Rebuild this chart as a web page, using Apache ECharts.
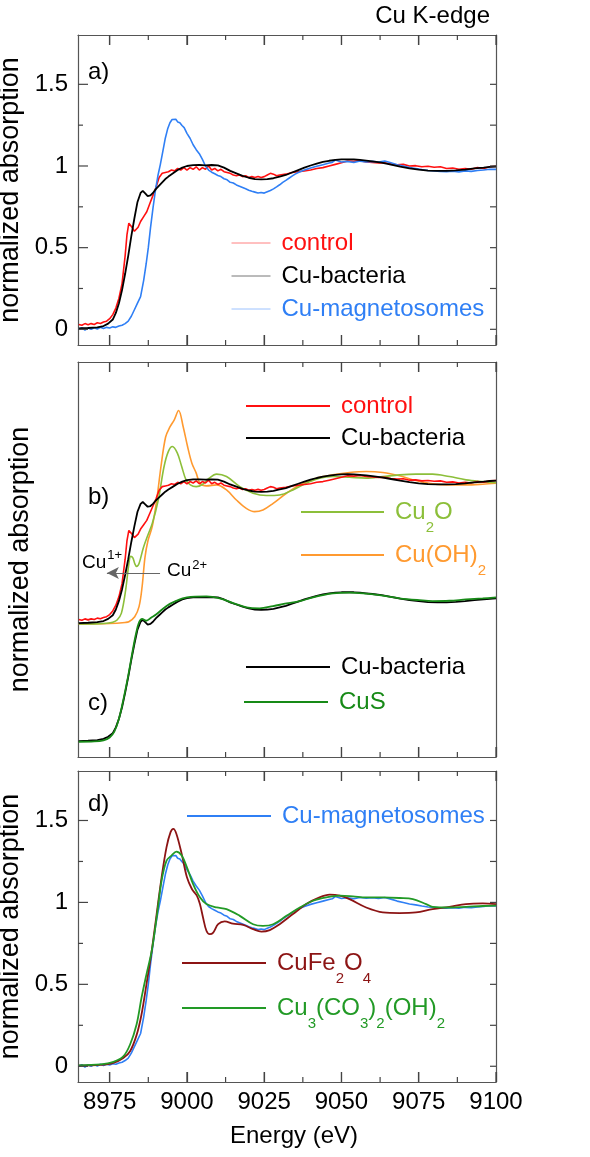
<!DOCTYPE html>
<html><head><meta charset="utf-8">
<script src="https://cdn.jsdelivr.net/npm/echarts@6/dist/echarts.min.js"></script>
<style>html,body{margin:0;padding:0;background:#fff}#c{width:590px;height:1157px}</style>
</head><body><div id="c"></div>
<script>
// ---------------- data (energy eV, normalized absorption) ----------------
const CONTROL = [[8965,0.03],[8966,0.025],[8967,0.035],[8968,0.028],[8969,0.035],[8970,0.03],[8971,0.04],[8972,0.036],[8973,0.045],[8974,0.05],[8975,0.065],[8976,0.09],[8977,0.13],[8978,0.19],[8979,0.28],[8980,0.45],[8980.6,0.58],[8981.2,0.65],[8981.8,0.65],[8982.4,0.62],[8983,0.6],[8983.6,0.605],[8984.2,0.625],[8985,0.66],[8986,0.69],[8987,0.72],[8988,0.77],[8989,0.82],[8990,0.87],[8991,0.93],[8992,0.955],[8993,0.96],[8994,0.965],[8995,0.975],[8996,0.97],[8997,0.985],[8998,0.975],[8999,0.99],[9000,0.975],[9001,0.99],[9002,0.98],[9003,0.995],[9004,0.975],[9005,0.99],[9006,0.98],[9007,1.0],[9008,0.975],[9009,0.985],[9010,0.97],[9011,0.98],[9012,0.965],[9013,0.96],[9014,0.955],[9015,0.945],[9016,0.94],[9017,0.945],[9018,0.935],[9019,0.94],[9020,0.93],[9021,0.935],[9022,0.93],[9023,0.936],[9024,0.93],[9025,0.935],[9026,0.945],[9027,0.955],[9028,0.95],[9029,0.94],[9030,0.945],[9032,0.95],[9034,0.96],[9036,0.965],[9038,0.97],[9040,0.975],[9042,0.985],[9044,0.99],[9046,1.0],[9048,1.01],[9050,1.02],[9052,1.03],[9054,1.028],[9056,1.033],[9058,1.025],[9060,1.022],[9062,1.018],[9064,1.02],[9066,1.012],[9068,1.008],[9070,1.01],[9072,1.0],[9074,1.002],[9076,0.995],[9078,0.998],[9080,0.992],[9082,0.995],[9084,0.985],[9086,0.988],[9088,0.98],[9090,0.985],[9092,0.98],[9094,0.99],[9096,0.985],[9098,0.995],[9100,0.998]];

const CU_BACTERIA = [[8965,0.005],[8968,0.008],[8971,0.012],[8973,0.02],[8974.5,0.035],[8976,0.06],[8977,0.1],[8978,0.16],[8979,0.24],[8980,0.34],[8981,0.45],[8982,0.57],[8983,0.68],[8984,0.78],[8985,0.835],[8985.7,0.848],[8986.5,0.832],[8987.3,0.815],[8988.2,0.82],[8989,0.835],[8990,0.86],[8991,0.88],[8992,0.9],[8993,0.92],[8994,0.935],[8995.5,0.955],[8997,0.975],[8998.5,0.99],[9000,1.0],[9002,1.005],[9004,1.006],[9006,1.004],[9008,1.006],[9010,1.004],[9012,0.99],[9014,0.97],[9016,0.955],[9018,0.94],[9020,0.928],[9022,0.92],[9024,0.918],[9026,0.92],[9028,0.925],[9030,0.935],[9032,0.945],[9034,0.96],[9036,0.975],[9038,0.99],[9040,1.003],[9042,1.015],[9044,1.025],[9046,1.032],[9048,1.037],[9050,1.04],[9052,1.041],[9054,1.04],[9056,1.037],[9058,1.033],[9060,1.028],[9063,1.02],[9066,1.008],[9069,0.996],[9072,0.986],[9075,0.978],[9078,0.972],[9081,0.97],[9084,0.97],[9087,0.973],[9090,0.978],[9093,0.985],[9096,0.99],[9098,0.994],[9100,0.997]];

const CU_MAGNETOSOMES = [[8965,0.0],[8966,0.01],[8967,-0.005],[8968,0.008],[8969,0.0],[8970,0.01],[8971,0.002],[8972,0.012],[8973,0.005],[8974,0.012],[8975,0.008],[8976,0.015],[8977,0.012],[8978,0.02],[8979,0.025],[8980,0.035],[8981,0.05],[8982,0.08],[8983,0.12],[8984,0.16],[8985,0.2],[8986,0.3],[8986.8,0.4],[8987.5,0.5],[8988.2,0.62],[8989,0.74],[8989.8,0.85],[8990.6,0.94],[8991.4,1.01],[8992.2,1.09],[8993,1.17],[8993.8,1.23],[8994.5,1.265],[8995.2,1.285],[8995.8,1.278],[8996.4,1.286],[8997,1.27],[8997.7,1.265],[8998.4,1.248],[8999.1,1.235],[9000,1.2],[9001,1.17],[9002,1.13],[9003,1.1],[9004,1.075],[9005,1.04],[9006,1.0],[9007,0.975],[9008,0.962],[9009,0.952],[9010,0.942],[9011,0.935],[9012,0.922],[9013,0.915],[9014,0.9],[9015,0.896],[9016,0.884],[9017,0.876],[9018,0.868],[9019,0.86],[9020,0.852],[9021,0.845],[9022,0.84],[9023,0.835],[9024,0.838],[9025,0.834],[9026,0.842],[9027,0.85],[9028,0.86],[9029,0.872],[9030,0.885],[9031,0.9],[9032,0.912],[9033,0.925],[9034,0.938],[9035,0.95],[9036,0.96],[9038,0.975],[9040,0.988],[9042,0.998],[9044,1.008],[9046,1.018],[9047,1.022],[9048,1.036],[9049,1.03],[9050,1.024],[9052,1.028],[9054,1.022],[9056,1.03],[9058,1.025],[9060,1.028],[9062,1.024],[9064,1.03],[9066,1.02],[9068,1.008],[9070,1.0],[9072,0.99],[9074,0.985],[9076,0.978],[9078,0.972],[9080,0.97],[9082,0.966],[9084,0.965],[9086,0.968],[9088,0.964],[9090,0.97],[9092,0.967],[9094,0.972],[9096,0.975],[9098,0.98],[9100,0.979]];

const CU2O = [[8965,0],[8970,0],[8974,0.005],[8976,0.012],[8977.4,0.027],[8978.8,0.075],[8980.2,0.24],[8981.1,0.4],[8981.8,0.47],[8982.5,0.46],[8983.1,0.42],[8983.7,0.4],[8984.5,0.42],[8985.9,0.53],[8987.4,0.62],[8988.8,0.7],[8990.7,0.86],[8992.6,1.095],[8994,1.2],[8995.3,1.234],[8996.9,1.188],[8998.3,1.095],[8999.7,1.002],[9001.1,0.967],[9003,0.955],[9005,0.97],[9007,1.01],[9009.6,1.042],[9012.8,1.025],[9017.1,0.955],[9021.4,0.909],[9025.7,0.893],[9030,0.897],[9034.3,0.932],[9038.6,0.979],[9042.9,1.014],[9047.2,1.025],[9052.6,1.02],[9058,1.014],[9063.4,1.025],[9068.8,1.037],[9074.1,1.042],[9079.5,1.042],[9084.9,1.025],[9090.3,1.002],[9095.7,0.99],[9100,0.983]];

const CU_OH2 = [[8965,0],[8975,0.003],[8980,0.01],[8981.2,0.015],[8983.1,0.05],[8984.5,0.12],[8985.5,0.26],[8986.4,0.46],[8987.4,0.58],[8988.8,0.68],[8990.2,0.86],[8991.6,1.095],[8993.1,1.3],[8994.5,1.37],[8995.9,1.42],[8997.3,1.485],[8998.8,1.37],[9000.2,1.234],[9001.6,1.118],[9003,1.049],[9004.2,0.979],[9006.3,0.96],[9009.6,0.967],[9012.8,0.932],[9016,0.862],[9019.2,0.804],[9021.9,0.781],[9024.6,0.793],[9027.9,0.839],[9032.2,0.909],[9036.5,0.967],[9041.8,1.014],[9047.2,1.037],[9052.6,1.053],[9058,1.06],[9063.4,1.053],[9068.8,1.03],[9074.1,0.997],[9079.5,0.974],[9084.9,0.967],[9090.3,0.967],[9095.7,0.972],[9100,0.979]];

const CUS = [[8965,0],[8970,0.002],[8973,0.01],[8975,0.03],[8976.5,0.07],[8978,0.16],[8979.5,0.3],[8981,0.46],[8982.5,0.64],[8983.5,0.75],[8984.5,0.83],[8985.5,0.855],[8986.8,0.842],[8988.5,0.865],[8990,0.885],[8993.4,0.945],[8996.5,0.98],[9000,1.005],[9006.3,1.012],[9010.6,0.998],[9014.9,0.965],[9019.2,0.935],[9023.5,0.928],[9027.9,0.944],[9032.2,0.962],[9036.5,0.978],[9040.8,1.005],[9047.2,1.032],[9052.6,1.038],[9058,1.03],[9063.4,1.016],[9068.8,0.998],[9075.2,0.985],[9079.5,0.979],[9084.9,0.981],[9090.3,0.99],[9095.7,0.997],[9100,1.004]];

const CUFE2O4 = [[8965,0.004],[8972,0.008],[8976.2,0.02],[8979.4,0.05],[8981.6,0.092],[8983.7,0.19],[8985.3,0.316],[8986.9,0.5],[8988.6,0.704],[8990.2,0.929],[8991.8,1.153],[8993.4,1.337],[8994.7,1.429],[8995.6,1.449],[8996.6,1.418],[8998.3,1.296],[9000,1.153],[9001.6,1.082],[9003.2,1.041],[9004.2,0.99],[9005.2,0.908],[9006.3,0.827],[9007.4,0.806],[9008.5,0.816],[9010.1,0.867],[9012.2,0.884],[9014.9,0.871],[9018.2,0.863],[9021.4,0.837],[9024.1,0.822],[9026.8,0.831],[9030,0.867],[9034.3,0.929],[9038.6,0.99],[9042.9,1.031],[9046.2,1.047],[9049.4,1.041],[9052.6,1.02],[9058,0.969],[9063.4,0.939],[9068.8,0.935],[9074.1,0.939],[9079.5,0.959],[9084.9,0.973],[9090.3,0.99],[9095.7,0.994],[9100,0.99]];

const CU3CO32OH2 = [[8965,0.006],[8972,0.012],[8976.2,0.027],[8979.4,0.06],[8981.6,0.133],[8983.7,0.255],[8985.3,0.418],[8986.9,0.561],[8988.6,0.704],[8990.2,0.908],[8991.8,1.133],[8993.4,1.255],[8995,1.286],[8996.6,1.31],[8998.3,1.286],[9000,1.214],[9002,1.112],[9004.2,1.031],[9006.3,0.99],[9009.6,0.969],[9012.8,0.959],[9017.1,0.918],[9021.4,0.867],[9024.6,0.857],[9027.9,0.867],[9032.2,0.918],[9036.5,0.969],[9040.8,1.01],[9045.1,1.031],[9049.4,1.041],[9053.7,1.037],[9058,1.031],[9063.4,1.031],[9068.8,1.027],[9073.1,1.02],[9077.4,0.99],[9079.5,0.973],[9084.9,0.969],[9090.3,0.973],[9095.7,0.978],[9100,0.98]];

// tick values
const X_MAJOR = [8975, 9000, 9025, 9050, 9075, 9100];
const X_MINOR = [8987.5, 9012.5, 9037.5, 9062.5, 9087.5];
const Y_MAJOR = [0, 0.5, 1, 1.5];
const Y_MINOR = [0.25, 0.75, 1.25];

// vertical offset of the stacked panel b curves (panel c at 0)
const OFFSET_B = 0.82;
const ARROW_Y = 0.354;        // Cu2+ -> Cu1+ arrow height (panel b units)
const ARROW_FROM = 8991.3, ARROW_TO = 8974.1;

// ---------------- style / layout ----------------
const FONT = 'Liberation Sans, Arial, Helvetica, sans-serif';
const FRAME = '#555';
const TICK = '#444';
const C = { control:'#ff1010', bact:'#000000', magn:'#2f7ff5', cu2o:'#8cbf3a', cuoh:'#ff9a30',
            cus:'#178a17', cufe:'#8c1414', cu3:'#229a26' };
const X_MIN = 8964.75, X_MAX = 9100;
const GRID_LEFT = 78, GRID_W = 418;
const grids = [ {top:35, height:310}, {top:362, height:395}, {top:771, height:311} ];
const Y_RANGES = [ [-0.096, 1.802], [-0.106, 2.642], [-0.096, 1.802] ];
const MAJOR_LEN = 10, MINOR_LEN = 5, RIGHT_LEN = 6;

function xAx(gi, pos, labels, extra) {
  return Object.assign({
    type:'value', gridIndex: gi, min: X_MIN, max: X_MAX, position: pos,
    axisLine:{show:true, onZero:false, lineStyle:{color:FRAME, width:1.2}}, splitLine:{show:false},
    axisTick:{show:true, inside:true, length:MAJOR_LEN, customValues: X_MAJOR, lineStyle:{color:TICK, width:1.2}},
    axisLabel:{show: !!labels, customValues: X_MAJOR, margin: 8, fontSize: 24, color:'#000', fontFamily: FONT,
      formatter: v => String(v)}
  }, extra || {});
}
function yAx(gi, pos, labels, extra) {
  const r = Y_RANGES[gi];
  return Object.assign({
    type:'value', gridIndex: gi, min: r[0], max: r[1], position: pos,
    axisLine:{show:true, onZero:false, lineStyle:{color:FRAME, width:1.2}}, splitLine:{show:false},
    axisTick:{show:false},
    axisLabel:{show: !!labels, customValues: Y_MAJOR, margin: 10, fontSize: 24, color:'#000', fontFamily: FONT,
      formatter: v => String(v)}
  }, extra || {});
}
const yName = {name:'normalized absorption', nameLocation:'middle', nameGap: 44,
  nameTextStyle:{fontSize: 27, color:'#000', fontFamily: FONT}};

// x axes: grid g -> index 2g (bottom), 2g+1 (top); y axes: 2g (left), 2g+1 (right)
const xAxis = [], yAxis = [];
for (let g = 0; g < 3; g++) {
  const last = g === 2;
  xAxis.push(xAx(g, 'bottom', last, last ? {name:'Energy (eV)', nameLocation:'middle', nameGap: 42,
    nameTextStyle:{fontSize:24, color:'#000', fontFamily:FONT, padding:[0,0,0,14]}} : {}));
  xAxis.push(xAx(g, 'top', false));
  yAxis.push(yAx(g, 'left', g !== 1, yName));
  yAxis.push(yAx(g, 'right', false));
}

function line(name, data, off, gi, color, extra) {
  return Object.assign({
    type:'line', name, xAxisIndex: gi * 2, yAxisIndex: gi * 2,
    data: data.map(p => [p[0], p[1] + off]),
    symbol:'none', showSymbol:false, animation:false, silent:true,
    lineStyle:{color, width:1.6}, itemStyle:{color}, emphasis:{disabled:true}
  }, extra || {});
}

const SM = {smooth: 0.35};
const series = [
  // panel a
  line('control', CONTROL, 0, 0, C.control),
  line('Cu-magnetosomes', CU_MAGNETOSOMES, 0, 0, C.magn),
  line('Cu-bacteria', CU_BACTERIA, 0, 0, C.bact, {lineStyle:{color:C.bact, width:1.8}}),
  // panel b
  line('Cu(OH)2', CU_OH2, OFFSET_B, 1, C.cuoh, SM),
  line('Cu2O', CU2O, OFFSET_B, 1, C.cu2o, SM),
  line('control', CONTROL, OFFSET_B, 1, C.control),
  line('Cu-bacteria', CU_BACTERIA, OFFSET_B, 1, C.bact, {
    lineStyle:{color:C.bact, width:1.8},
    markLine:{silent:true, animation:false, symbol:['none','arrow'], symbolSize:[9,12],
      label:{show:false}, lineStyle:{color:'#666', width:1, type:'solid'},
      data:[[{coord:[ARROW_FROM, ARROW_Y + OFFSET_B]}, {coord:[ARROW_TO, ARROW_Y + OFFSET_B]}]]}
  }),
  // panel c
  line('Cu-bacteria', CU_BACTERIA, 0, 1, C.bact, {lineStyle:{color:C.bact, width:1.8}}),
  line('CuS', CUS, 0, 1, C.cus, Object.assign({}, SM, {lineStyle:{color:C.cus, width:1.8}})),
  // panel d
  line('Cu-magnetosomes', CU_MAGNETOSOMES, 0, 2, C.magn),
  line('CuFe2O4', CUFE2O4, 0, 2, C.cufe, Object.assign({}, SM, {lineStyle:{color:C.cufe, width:1.8}})),
  line('Cu3(CO3)2(OH)2', CU3CO32OH2, 0, 2, C.cu3, Object.assign({}, SM, {lineStyle:{color:C.cu3, width:1.8}}))
];

// legend entries: name, icon left, icon centre y, icon width, text colour, icon colour, icon line width
const RICH = {'Cu2O':'{m|Cu}{s|2}{m|O}', 'Cu(OH)2':'{m|Cu(OH)}{s|2}', 'CuFe2O4':'{m|CuFe}{s|2}{m|O}{s|4}',
  'Cu3(CO3)2(OH)2':'{m|Cu}{s|3}{m|(CO}{s|3}{m|)}{s|2}{m|(OH)}{s|2}'};
const LEG = [
  ['control', 231, 243, 39, C.control, '#ff8080', 1],
  ['Cu-bacteria', 231, 276, 39, '#000', '#777', 1],
  ['Cu-magnetosomes', 231, 309, 39, C.magn, '#9cc2ff', 1],
  ['control', 245, 406, 84, C.control, C.control, 2],
  ['Cu-bacteria', 245, 438, 84, '#000', '#000', 2],
  ['Cu2O', 300, 512, 83, C.cu2o, C.cu2o, 2],
  ['Cu(OH)2', 300, 555, 83, C.cuoh, C.cuoh, 2],
  ['Cu-bacteria', 245, 667, 84, '#000', '#000', 2],
  ['CuS', 243, 702, 84, C.cus, C.cus, 2],
  ['Cu-magnetosomes', 186, 816, 84, C.magn, C.magn, 2],
  ['CuFe2O4', 181, 963, 84, C.cufe, C.cufe, 2],
  ['Cu3(CO3)2(OH)2', 181, 1008, 84, C.cu3, C.cu3, 2]
];
const legend = LEG.map(([name, left, cy, w, tc, lc, lw]) => {
  const rich = !!RICH[name];
  const blockH = rich ? 47 : 28;
  return {
    show:true, orient:'vertical', left, top: cy - blockH / 2, padding:0, itemGap:0,
    itemWidth:w, itemHeight:14, selectedMode:false,
    data:[{name, lineStyle:{color:lc, width:lw}, itemStyle:{opacity:0}}],
    formatter: n => RICH[n] || n,
    textStyle:{fontSize:24, lineHeight:28, color:tc, fontFamily:FONT, padding:[0,0,0,6],
      rich:{ m:{fontSize:24, lineHeight:28, color:tc, fontFamily:FONT},
             s:{fontSize:15, lineHeight:15, color:tc, fontFamily:FONT, padding:[32,0,0,0]} }}
  };
});

function txt(text, x, y, size, align) {
  return {type:'text', x, y, silent:true,
    style:{text, fontSize:size, fontFamily:FONT, fill:'#000', verticalAlign:'middle', align: align || 'left'}};
}
const graphic = [
  txt('Cu K-edge', 490, 16, 24, 'right'),
  txt('a)', 88, 72, 24), txt('b)', 88, 497, 24), txt('c)', 88, 703, 24), txt('d)', 88, 804, 24),
  {type:'text', x:82, y:563, silent:true, style:{text:'{m|Cu}{p|1+}', verticalAlign:'middle', fill:'#000',
    rich:{m:{fontSize:19, fontFamily:FONT, fill:'#000'}, p:{fontSize:13, fontFamily:FONT, fill:'#000', padding:[0,0,16,1]}}}},
  {type:'text', x:167, y:571, silent:true, style:{text:'{m|Cu}{p|2+}', verticalAlign:'middle', fill:'#000',
    rich:{m:{fontSize:19, fontFamily:FONT, fill:'#000'}, p:{fontSize:13, fontFamily:FONT, fill:'#000', padding:[0,0,12,1]}}}}
];

const chart = echarts.init(document.getElementById('c'), null, {renderer:'canvas'});
chart.setOption({
  animation:false, backgroundColor:'#fff',
  grid: grids.map(g => ({left:GRID_LEFT, width:GRID_W, top:g.top, height:g.height, show:false,
    containLabel:false, outerBoundsMode:'none'})),
  xAxis, yAxis, series, legend, graphic
});

// inward tick marks, positioned through each panel's own axis scales
const ticks = [];
const seg = (x1, y1, x2, y2) => ticks.push({type:'line', silent:true, z:50,
  shape:{x1, y1, x2, y2}, style:{stroke:TICK, lineWidth:1.2}});
for (let g = 0; g < 3; g++) {
  const xi = g * 2, yi = g * 2;
  const px = v => chart.convertToPixel({xAxisIndex: xi}, v);
  const py = v => chart.convertToPixel({yAxisIndex: yi}, v);
  const bottom = py(Y_RANGES[g][0]), top = py(Y_RANGES[g][1]);
  const left = px(X_MIN), right = px(X_MAX);
  X_MAJOR.forEach(v => { const x = px(v); seg(x, bottom, x, bottom - MAJOR_LEN); seg(x, top, x, top + MAJOR_LEN); });
  X_MINOR.forEach(v => { const x = px(v); seg(x, bottom, x, bottom - MINOR_LEN); seg(x, top, x, top + MINOR_LEN); });
  if (g !== 1) {
    Y_MAJOR.forEach(v => { const y = py(v); seg(left, y, left + MAJOR_LEN, y); seg(right, y, right - RIGHT_LEN, y); });
    Y_MINOR.forEach(v => { const y = py(v); seg(left, y, left + MINOR_LEN, y); seg(right, y, right - RIGHT_LEN, y); });
  }
}
chart.setOption({graphic: graphic.concat(ticks)});
</script></body></html>
